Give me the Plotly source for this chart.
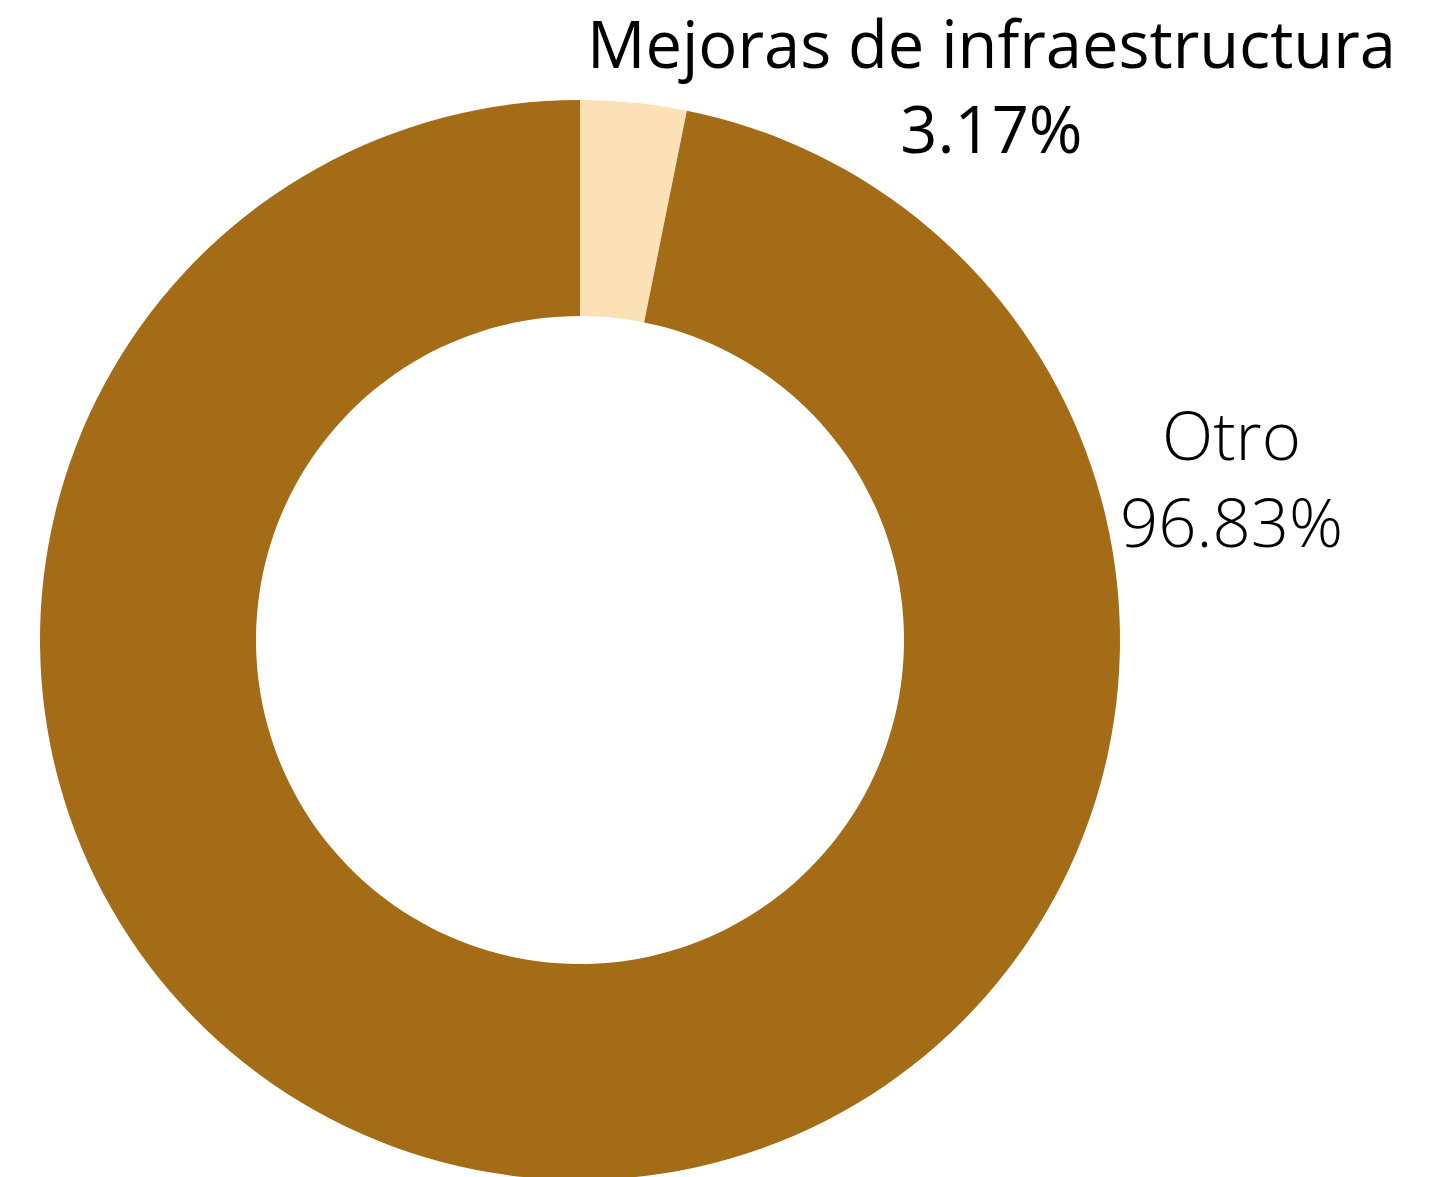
import plotly.graph_objects as go

labels = ["Mejoras de infraestructura", "Otro"]
values = [3.17, 96.83]
colors = ["#FCE1B7", "#A46C17"]

W, H = 1430, 1300
OFF = 8  # default page body margin
L, T = 40 - OFF, 100 - OFF
D = 1080  # pie diameter in px
R_, B_ = W - L - D, H - T - D

fig = go.Figure(go.Pie(
    labels=labels, values=values, hole=0.6, sort=False,
    direction="clockwise", rotation=0,
    marker=dict(colors=colors, line=dict(width=0)),
    textinfo="none", hoverinfo="skip", showlegend=False,
))

def px2paper(x, y):
    x -= OFF
    y -= OFF
    return (x - L) / D, (H - B_ - y) / D

ann_specs = [
    (991, 86, dict(family="Open Sans", size=65, color="#000000", weight=400)),
    (1231, 477, dict(family="Open Sans", size=67, color="#000000", weight=300)),
]
annotations = []
for (cx, cy, f), lab, val in zip(ann_specs, labels, values):
    ax, ay = px2paper(cx, cy)
    annotations.append(dict(
        x=ax, y=ay, xref="paper", yref="paper", xanchor="center", yanchor="middle",
        text=f"{lab}<br>{val:.2f}%", showarrow=False, font=f, align="center",
    ))

fig.update_layout(
    width=W, height=H, autosize=False,
    margin=dict(l=L, r=R_, t=T, b=B_, pad=0),
    paper_bgcolor="white", plot_bgcolor="white",
    annotations=annotations,
)
fig.write_html("out.html")
